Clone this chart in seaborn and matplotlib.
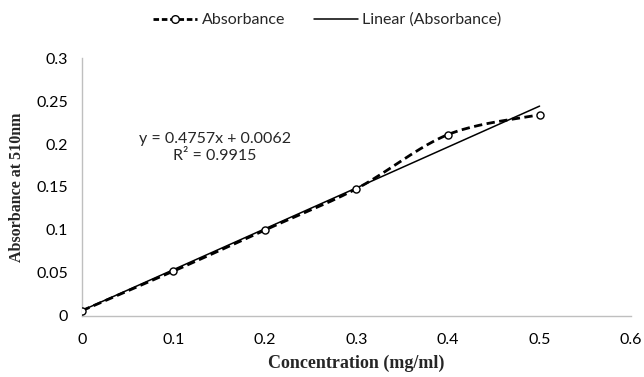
import numpy as np
import pandas as pd
import seaborn as sns
import matplotlib.pyplot as plt
from matplotlib.lines import Line2D

# data
concentration = [0.0, 0.1, 0.2, 0.3, 0.4, 0.5]
absorbance = [0.006, 0.052, 0.100, 0.148, 0.211, 0.234]
fit_label = "y = 0.4757x + 0.0062\nR\u00b2 = 0.9915"
x_ticks = [0, 0.1, 0.2, 0.3, 0.4, 0.5, 0.6]
y_ticks = [0, 0.05, 0.1, 0.15, 0.2, 0.25, 0.3]

df = pd.DataFrame({"conc": concentration, "abs": absorbance})


def smooth_curve(x, y, n=40):
    # excel-like smoothed line (bezier through the points, catmull-rom style)
    x = np.asarray(x, float)
    y = np.asarray(y, float)
    px = np.r_[x[0], x, x[-1]]
    py = np.r_[y[0], y, y[-1]]
    xs, ys = [], []
    t = np.linspace(0, 1, n)
    for i in range(1, len(px) - 2):
        p0 = np.array([px[i], py[i]])
        p3 = np.array([px[i + 1], py[i + 1]])
        c1 = p0 + (p3 - np.array([px[i - 1], py[i - 1]])) / 6
        c2 = p3 - (np.array([px[i + 2], py[i + 2]]) - p0) / 6
        pts = ((1 - t) ** 3)[:, None] * p0 + (3 * (1 - t) ** 2 * t)[:, None] * c1 \
            + (3 * (1 - t) * t ** 2)[:, None] * c2 + (t ** 3)[:, None] * p3
        xs.extend(pts[:, 0])
        ys.extend(pts[:, 1])
    return pd.DataFrame({"conc": xs, "abs": ys})


sns.set_style("white")
plt.rcParams["font.family"] = ["Lato", "DejaVu Sans"]

fig = plt.figure(figsize=(6.44, 3.77), dpi=100)
ax = fig.add_axes([0.127, 0.162, 0.853, 0.684])

curve = smooth_curve(concentration, absorbance)
sns.lineplot(data=curve, x="conc", y="abs", sort=False, color="black",
             linewidth=2.0, dashes=False, ax=ax)
ax.lines[-1].set_dashes((3, 1.6))

# linear trendline
sns.regplot(data=df, x="conc", y="abs", scatter=False, ci=None, truncate=True,
            line_kws={"color": "black", "linewidth": 1.1}, ax=ax)

sns.scatterplot(data=df, x="conc", y="abs", marker="o", s=26,
                facecolor="white", edgecolor="black", linewidth=1.0,
                zorder=5, ax=ax)

ax.text(0.1454, 0.1956, fit_label, ha="center", va="center", fontsize=11.5,
        linespacing=1.3)

ax.set_xlim(0, 0.6)
ax.set_ylim(0, 0.3)
ax.set_xticks(x_ticks)
ax.set_xticklabels([f"{v:g}" for v in x_ticks])
ax.set_yticks(y_ticks)
ax.set_yticklabels([f"{v:g}" for v in y_ticks])
ax.tick_params(axis="both", labelsize=11.5, length=4, width=1, color="#BFBFBF",
               direction="out", pad=6, labelcolor="black")
ax.tick_params(axis="x", pad=8)
for s in ["top", "right"]:
    ax.spines[s].set_visible(False)
for s in ["left", "bottom"]:
    ax.spines[s].set_color("#BFBFBF")
    ax.spines[s].set_linewidth(1)

serif = ["Liberation Serif", "DejaVu Serif"]
ax.set_xlabel("Concentration (mg/ml)", fontsize=13, fontweight="bold",
              family=serif, labelpad=6)
ax.set_ylabel("Absorbance at 510nm", fontsize=11.5, fontweight="bold",
              family=serif, labelpad=8)

handles = [
    Line2D([], [], color="black", linewidth=2.0, dashes=(2, 1), marker="o",
           markersize=5.5, markerfacecolor="white", markeredgecolor="black"),
    Line2D([], [], color="black", linewidth=1.1),
]
fig.legend(handles, ["Absorbance", "Linear (Absorbance)"], loc="center",
           bbox_to_anchor=(0.508, 0.947), ncol=2, frameon=False, fontsize=11.5,
           handlelength=2.8, handletextpad=0.25, columnspacing=1.8)

fig.savefig("out.png", dpi=100)
